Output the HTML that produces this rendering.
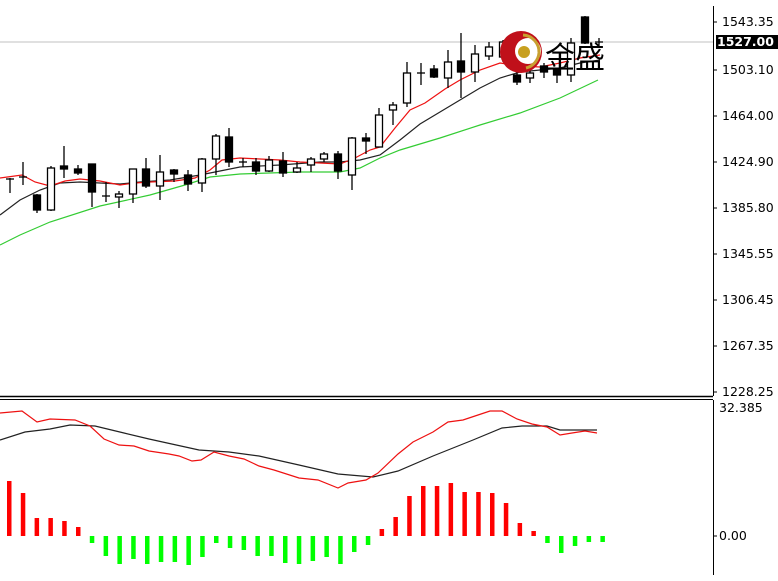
<!DOCTYPE html>
<html><head><meta charset="utf-8"><style>
html,body{margin:0;padding:0;background:#fff;}
svg{display:block;}
text{font-family:"DejaVu Sans","Liberation Sans",sans-serif;font-size:12.5px;fill:#000;}
</style></head><body>
<svg width="778" height="581" viewBox="0 0 778 581" xmlns="http://www.w3.org/2000/svg">
<rect width="778" height="581" fill="#fff"/>
<line x1="0" y1="42" x2="713" y2="42" stroke="#c0c0c0" stroke-width="1"/>
<polyline fill="none" stroke="#33cc33" stroke-width="1.2" points="0,245 20,235 50,222 100,206 150,195 185,185 210,177 240,174 300,172 340,172 360,168 380,158 400,150 440,138 480,125 520,113 560,98 598,80"/>
<polyline fill="none" stroke="#222" stroke-width="1.2" points="0,215 20,200 40,190 60,183 80,182 100,183 120,184 140,182 170,180 200,175 215,172 240,167 280,165 320,162 340,162 360,160 380,155 400,140 420,124 440,112 460,100 480,88 500,78 520,72 540,70 560,68 580,63 600,60"/>
<polyline fill="none" stroke="#ee1111" stroke-width="1.2" points="0,178 22,175 35,182 50,186 65,181 80,179 100,181 120,185 135,183 150,182 175,181 195,178 210,170 222,160 240,158 260,159 280,160 300,162 320,163 340,164 355,158 370,150 380,147 395,128 410,110 425,103 445,89 460,80 480,70 500,63 520,66 540,67 560,63 580,58 600,55"/>
<g stroke="#000" stroke-width="1.3" id="candles"></g>
<circle cx="521" cy="52" r="21" fill="#c0101a"/>
<circle cx="528" cy="51" r="13" fill="#fff"/>
<path d="M523,35 A17,17 0 0 1 539,53 A17,17 0 0 1 526,68" fill="none" stroke="#c8a030" stroke-width="3"/>
<circle cx="524" cy="52" r="6" fill="#c8a020"/>
<text x="545" y="68" style="font-family:'Noto Sans CJK SC',sans-serif;font-size:30px;">金盛</text>
<line x1="713.5" y1="6" x2="713.5" y2="396" stroke="#000"/>
<line x1="713.5" y1="400" x2="713.5" y2="575" stroke="#000"/>
<line x1="0" y1="396.5" x2="713" y2="396.5" stroke="#000" stroke-width="1.5"/>
<line x1="0" y1="399.5" x2="713" y2="399.5" stroke="#000" stroke-width="1"/>
<g id="ticks"></g>
<rect x="716" y="35" width="62" height="14" fill="#000"/>
<text x="717" y="46" style="fill:#fff;font-weight:bold">1527.00</text>
<text x="719" y="412">32.385</text>
<line x1="713" y1="536" x2="717" y2="536" stroke="#000"/>
<text x="719" y="540">0.00</text>
<g id="hist"></g>
<polyline fill="none" stroke="#222" stroke-width="1.2" points="0,440 25,432 50,429 70,425 95,426 124,433 149,439 199,450 229,452 259,456 299,465 338,474 373,477 398,471 433,456 473,440 502,428 522,426 547,426 560,430 597,430"/>
<polyline fill="none" stroke="#ee1111" stroke-width="1.2" points="0,413 22,411 37,422 50,419 75,420 90,426 104,439 119,445 134,446 149,451 169,454 179,456 192,461 201,460 214,452 229,456 244,459 259,466 274,470 299,478 318,480 338,488 348,483 366,480 378,473 398,454 413,442 433,432 448,422 463,420 478,415 490,411 502,411 517,419 532,424 547,427 560,435 572,433 585,431 597,433"/>
</svg>
<script>
var S="http://www.w3.org/2000/svg";
function el(p,n,a){var e=document.createElementNS(S,n);for(var k in a)e.setAttribute(k,a[k]);p.appendChild(e);return e;}
var C=[[10,178,193,179,180,'x'],[23,162,185,177,178,'x'],[37,194,213,195,210,'b'],[51,166,211,168,210,'w'],[64,146,178,166,169,'b'],[78,165,175,169,173,'b'],[92,164,207,164,192,'b'],[106,182,202,196,197,'x'],[119,191,208,194,197,'w'],[133,169,203,169,194,'w'],[146,158,188,169,186,'b'],[160,155,200,172,186,'w'],[174,169,182,170,174,'b'],[188,170,191,175,184,'b'],[202,158,192,159,183,'w'],[216,134,175,136,159,'w'],[229,128,167,137,162,'b'],[243,158,167,162,163,'x'],[256,158,175,162,171,'b'],[269,156,172,160,171,'w'],[283,152,177,161,173,'b'],[297,162,173,168,172,'w'],[311,157,172,159,165,'w'],[324,152,162,154,159,'w'],[338,151,179,154,171,'b'],[352,137,190,138,175,'w'],[366,133,154,138,141,'b'],[379,108,147,115,147,'w'],[393,102,125,105,110,'w'],[407,62,107,73,103,'w'],[421,63,85,73,74,'x'],[434,65,78,69,77,'b'],[448,50,88,62,78,'w'],[461,33,98,61,72,'b'],[475,45,82,54,72,'w'],[489,42,60,47,56,'w'],[503,40,62,42,57,'w'],[517,70,85,75,82,'b'],[530,68,83,73,78,'w'],[544,63,78,66,72,'b'],[557,68,83,70,75,'b'],[571,38,82,43,75,'w'],[585,16,44,17,43,'b'],[599,38,48,42,43,'x']];
var g=document.getElementById('candles');
C.forEach(function(c){el(g,'line',{x1:c[0],x2:c[0],y1:c[1],y2:c[2]});
if(c[5]=='x'){el(g,'line',{x1:c[0]-4,x2:c[0]+4,y1:c[3],y2:c[3]});}
else el(g,'rect',{x:c[0]-3.5,y:c[3],width:7,height:Math.max(2,c[4]-c[3]),fill:c[5]=='b'?'#000':'#fff'});});
var t=document.getElementById('ticks');
[[22,'1543.35'],[70,'1503.10'],[116,'1464.00'],[162,'1424.90'],[208,'1385.80'],[254,'1345.55'],[300,'1306.45'],[346,'1267.35'],[392,'1228.25']].forEach(function(a){
el(t,'line',{x1:713,x2:717,y1:a[0],y2:a[0],stroke:'#000'});
var x=el(t,'text',{x:722,y:a[0]+4});x.textContent=a[1];});
var H=[481,493,518,518,521,527,543,556,564,559,564,562,562,565,557,543,548,550,556,556,563,564,561,557,564,552,545,529,517,496,486,486,483,492,492,493,503,523,531,543,553,546,542,542];
var h=document.getElementById('hist');
H.forEach(function(y,i){var x=9+i*13.8;var top=Math.min(y,536),bot=Math.max(y,536);
el(h,'rect',{x:x-2,y:top,width:4.5,height:bot-top,fill:y<536?'#ff0000':'#00ff00'});});
</script>
</body></html>
